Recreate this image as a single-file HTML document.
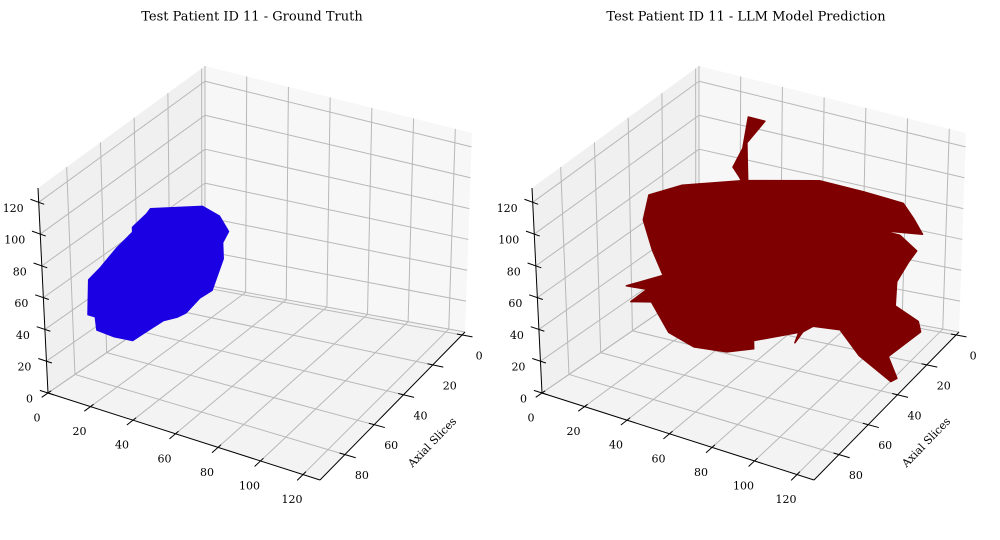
<!DOCTYPE html>
<html><head><meta charset="utf-8"><style>
html,body{margin:0;padding:0;background:#fff;}
svg{display:block;font-family:"DejaVu Serif","Liberation Serif",serif;}
</style></head><body>
<svg id="chart" width="1000" height="540" viewBox="0 0 1000 540" xmlns="http://www.w3.org/2000/svg">
<g id="p0"></g>
<g id="p1"></g>
</svg>
<script>
const xTicks=[0,20,40,60,80,100,120];
const yTicks=[0,20,40,60,80];
const zTicks=[0,20,40,60,80,100,120];
const XLIM=[0,128], YLIM=[-2,97], ZLIM=[0,129];
const titles=["Test Patient ID 11 - Ground Truth","Test Patient ID 11 - LLM Model Prediction"];
// ground truth tumour outline (x,z) at an axial depth plane
const gtY=77;
const gtX=[37,62,70,74,71,71,65,59,52,48,41,36,31,26,17,9,8.5,5,6,12,20,28,28,35];
const gtZ=[115,126,123,115,107,97,75,68,56,52,47,41,35,29,28,29,37,37,59,69,84,97,100,111];
// predicted outline (x,z)
const predY=47;
const predX=[31,60,59,56,61,64,72,63,63,63,98,119,138,143,147,127,136,144,140,134,133,144,145,129,133,130,115,106,93,88,84,86,64,64,51,35,23,15,5,13,3,21,16,12,15];
const predZ=[103,115,117,122,135,155,155,139,129,116,127,127,126,118,110,106,106,99,91,77,62,56,50,30,18,15,26,39,37,32,24,31,19,14,8,6,11,27,24,34,33,45,59,76,92];

const NS="http://www.w3.org/2000/svg";
const C00=[205,285],C10=[465,332],C01=[48,393],C11=[320,480];
const Z00=[0,-219],Z10=[7,-199],Z01=[-10,-205],Z11=[-6,-190];
function bl(a,b,c,d,u,v){return [(1-u)*(1-v)*a[0]+u*(1-v)*b[0]+(1-u)*v*c[0]+u*v*d[0],(1-u)*(1-v)*a[1]+u*(1-v)*b[1]+(1-u)*v*c[1]+u*v*d[1]];}
function P(u,v,w,off){const b=bl(C00,C10,C01,C11,u,v),z=bl(Z00,Z10,Z01,Z11,u,v);return [b[0]+w*z[0]+off,b[1]+w*z[1]];}
// interior projection (depth-plane affine)
function PI(u,v,w,off){const b=bl(C00,C10,C01,C11,u,v),z=bl(Z00,Z00,Z01,Z01,u,v);return [b[0]+w*z[0]+off,b[1]+w*z[1]];}
function nx(x){return (x-XLIM[0])/(XLIM[1]-XLIM[0]);}
function ny(y){return (y-YLIM[0])/(YLIM[1]-YLIM[0]);}
function nz(z){return (z-ZLIM[0])/(ZLIM[1]-ZLIM[0]);}
function mk(tag,attrs,parent){const e=document.createElementNS(NS,tag);for(const k in attrs)e.setAttribute(k,attrs[k]);parent.appendChild(e);return e;}
function poly(pts){return pts.map(p=>p[0].toFixed(1)+","+p[1].toFixed(1)).join(" ");}

function panel(g,off,title,bx,bz,by,color){
  let e;
  e=mk('polygon',{points:poly([P(0,0,0,off),P(0,1,0,off),P(0,1,1,off),P(0,0,1,off)]),fill:'#f0f0f0'},g);
  
  
  e=mk('polygon',{points:poly([P(0,0,0,off),P(1,0,0,off),P(1,0,1,off),P(0,0,1,off)]),fill:'#f7f7f7'},g);
  
  
  e=mk('polygon',{points:poly([P(0,0,0,off),P(1,0,0,off),P(1,1,0,off),P(0,1,0,off)]),fill:'#f3f3f3'},g);
  
  
  const gs={stroke:'#b8b8b8','stroke-width':1,fill:'none'};
  function line(a,b,st,name){const l=mk('line',Object.assign({x1:a[0],y1:a[1],x2:b[0],y2:b[1]},st),g);return l;}
  xTicks.forEach(t=>{const u=nx(t);line(P(u,0,0,off),P(u,0,1,off),gs,'x-gridline');line(P(u,0,0,off),P(u,1,0,off),gs,'x-gridline');});
  yTicks.forEach(t=>{const v=ny(t);line(P(0,v,0,off),P(0,v,1,off),gs,'y-gridline');line(P(0,v,0,off),P(1,v,0,off),gs,'y-gridline');});
  zTicks.forEach(t=>{const w=nz(t);line(P(0,0,w,off),P(1,0,w,off),gs,'z-gridline');line(P(0,0,w,off),P(0,1,w,off),gs,'z-gridline');});
  const as={stroke:'#000','stroke-width':1};
  line(P(0,1,0,off),P(1,1,0,off),as,'x-axis-line');
  line(P(1,0,0,off),P(1,1,0,off),as,'y-axis-line');
  line(P(0,1,0,off),P(0,1,1,off),as,'z-axis-line');
  function txt(s,x,y,anchor,name){const t=mk('text',{x:x,y:y,'text-anchor':anchor,'dominant-baseline':'central','font-size':11,fill:'#000'},g);t.textContent=s;return t;}
  xTicks.forEach(t=>{const u=nx(t);const p=P(u,1,0,off);line(P(u,0.98,0,off),P(u,1.04,0,off),as,'x-tick');txt(String(t),p[0]-11,p[1]+25,'middle','x-tick-label');});
  yTicks.forEach(t=>{const v=ny(t);const p=P(1,v,0,off);line(P(0.98,v,0,off),P(1.04,v,0,off),as,'y-tick');txt(String(t),p[0]+17,p[1]+21,'middle','y-tick-label');});
  zTicks.forEach(t=>{const w=nz(t);const p=P(0,1,w,off);line(P(-0.03,1,w,off),P(0.02,1,w,off),as,'z-tick');txt(String(t),p[0]-15,p[1]+6,'end','z-tick-label');});
  const v=ny(by);
  const pts=bx.map((x,i)=>PI(nx(x),v,nz(bz[i]),off));
  e=mk('polygon',{points:poly(pts),fill:color,stroke:color,'stroke-width':1.5,'stroke-linejoin':'round'},g);
  
  
  const c=P(1,0.55,0,off);
  const lab=mk('text',{x:0,y:0,'text-anchor':'middle','dominant-baseline':'central','font-size':11,transform:'translate('+(c[0]+47)+','+(c[1]+29)+') rotate(-46)'},g);
  lab.textContent='Axial Slices';
  
  
  const tt=mk('text',{x:252+off,y:17,'text-anchor':'middle','dominant-baseline':'central','font-size':13},g);
  tt.textContent=title;
  
  
}
panel(document.getElementById('p0'),0,titles[0],gtX,gtZ,gtY,'#1c00e4');
panel(document.getElementById('p1'),494,titles[1],predX,predZ,predY,'#7f0000');
</script>
</body></html>
